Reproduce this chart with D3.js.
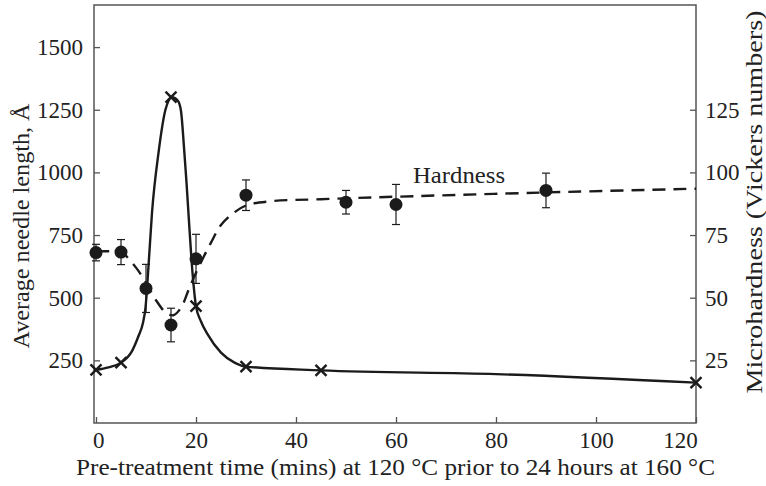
<!DOCTYPE html>
<html>
<head>
<meta charset="utf-8">
<script src="https://cdn.jsdelivr.net/npm/d3@7"></script>
<style>
  body { margin: 0; background: #fff; }
  text { font-family: "Liberation Serif", "DejaVu Serif", serif; fill: #222; }
</style>
</head>
<body>
<svg id="chart" width="766" height="486"></svg>
<script>
// --- Data ---
const xTicks = [0, 20, 40, 60, 80, 100, 120];
const leftTicks = [250, 500, 750, 1000, 1250, 1500];
const rightTicks = [25, 50, 75, 100, 125];

// needle length (crosses, solid line), Å
const needleTime = [0, 5, 15, 20, 30, 45, 120];
const needleLen = [212, 241, 1300, 466, 225, 210, 161];

// smooth needle-length curve as drawn
const needleCurveTime = [0, 2.5, 5, 7.2, 8.5, 9.4, 9.9, 10.5, 11.2, 12.5, 13.9, 15.2, 16.4, 17, 17.6, 18.1, 18.7, 19.3, 20, 21, 22.3, 25, 27.7, 30, 45, 80, 120];
const needleCurveLen = [212, 222, 241, 287, 347, 400, 460, 626, 839, 1078, 1251, 1300, 1285, 1245, 1100, 960, 772, 600, 466, 405, 355, 281, 241, 225, 210, 195, 161];

// hardness (filled circles with error bars), Vickers
const hardTime = [0, 5, 10, 15, 20, 30, 50, 60, 90];
const hardVal = [68, 68.2, 53.7, 39.1, 65.5, 90.9, 88.1, 87.2, 92.8];
const hardErr = [3.3, 5, 9.6, 6.7, 9.8, 6.1, 4.7, 8, 6.9];

// dashed hardness trend line
const hardCurveTime = [0, 3, 5, 8, 10, 12, 14, 15.5, 17, 18.5, 20, 23, 25, 27, 30, 35, 45, 60, 90, 120];
const hardCurveVal = [68.5, 68.5, 68.2, 62, 56, 49, 44, 43, 46, 53, 60, 72, 79, 83, 86.8, 88.5, 89.3, 90.3, 92, 93.5];

// --- Layout ---
const svg = d3.select("#chart");
const plotL = 94, plotR = 696, plotT = 5, plotB = 423;
const axisColor = "#555";
const inkColor = "#1b1b1b";

const x = d3.scaleLinear().domain([-0.4, 120]).range([plotL, plotR]);
const yL = d3.scaleLinear().domain([0, 1668]).range([plotB, plotT]);
const yR = d3.scaleLinear().domain([0, 166.8]).range([plotB, plotT]);

// --- Frame ---
svg.append("rect")
    .attr("x", plotL).attr("y", plotT)
    .attr("width", plotR - plotL).attr("height", plotB - plotT)
    .attr("fill", "none")
    .attr("stroke", axisColor)
    .attr("stroke-width", 1.5);

// --- Axes (ticks point inward) ---
const tickFont = 23;
const titleFont = 24;
const fmt = d3.format("d");

function styleAxis(g) {
    g.select(".domain").remove();
    g.selectAll(".tick line").attr("stroke", axisColor).attr("stroke-width", 1.3);
    g.selectAll(".tick text")
        .attr("font-size", tickFont)
        .attr("font-family", null)
        .attr("fill", "#222");
}

const xAxis = svg.append("g")
    .attr("transform", `translate(0,${plotB})`)
    .call(d3.axisBottom(x).tickValues(xTicks).tickFormat(fmt).tickSize(-6).tickPadding(12))
    .call(styleAxis);
xAxis.selectAll(".tick text")
    .attr("dy", "0.55em")
    .attr("text-anchor", d => d === 120 ? "end" : "middle")
    .attr("dx", d => d === 120 ? "0.05em" : (d === 0 ? "0.1em" : 0));

svg.append("g")
    .attr("transform", `translate(${plotL},0)`)
    .call(d3.axisLeft(yL).tickValues(leftTicks).tickFormat(fmt).tickSize(-6).tickPadding(11))
    .call(styleAxis);

svg.append("g")
    .attr("transform", `translate(${plotR},0)`)
    .call(d3.axisRight(yR).tickValues(rightTicks).tickFormat(fmt).tickSize(-6).tickPadding(9))
    .call(styleAxis);

// --- Axis titles ---
svg.append("text")
    .attr("x", (76 + 715) / 2).attr("y", 475)
    .attr("text-anchor", "middle")
    .attr("font-size", titleFont)
    .attr("textLength", 639)
    .attr("lengthAdjust", "spacingAndGlyphs")
    .text("Pre-treatment time (mins) at 120 °C prior to 24 hours at 160 °C");

svg.append("text")
    .attr("transform", "translate(29,226) rotate(-90)")
    .attr("text-anchor", "middle")
    .attr("font-size", titleFont)
    .attr("textLength", 245)
    .attr("lengthAdjust", "spacingAndGlyphs")
    .text("Average needle length, Å");

svg.append("text")
    .attr("transform", "translate(762,202) rotate(-90)")
    .attr("text-anchor", "middle")
    .attr("font-size", titleFont)
    .attr("textLength", 383)
    .attr("lengthAdjust", "spacingAndGlyphs")
    .text("Microhardness (Vickers numbers)");

// --- Needle length curve ---
const needleLine = d3.line()
    .x((d, i) => x(needleCurveTime[i]))
    .y(d => yL(d))
    .curve(d3.curveMonotoneX);

svg.append("path")
    .datum(needleCurveLen)
    .attr("fill", "none")
    .attr("stroke", inkColor)
    .attr("stroke-width", 2.4)
    .attr("d", needleLine);

// --- Hardness dashed curve ---
const hardLine = d3.line()
    .x((d, i) => x(hardCurveTime[i]))
    .y(d => yR(d))
    .curve(d3.curveCatmullRom.alpha(0.5));

svg.append("path")
    .datum(hardCurveVal)
    .attr("fill", "none")
    .attr("stroke", inkColor)
    .attr("stroke-width", 2.4)
    .attr("stroke-dasharray", "13,8")
    .attr("d", hardLine);

// --- Error bars ---
const errG = svg.append("g")
    .attr("stroke", inkColor)
    .attr("stroke-width", 1.2);
hardTime.forEach((t, i) => {
    const cx = x(t);
    const y0 = yR(hardVal[i] - hardErr[i]);
    const y1 = yR(hardVal[i] + hardErr[i]);
    errG.append("line").attr("x1", cx).attr("x2", cx).attr("y1", y0).attr("y2", y1);
    errG.append("line").attr("x1", cx - 4).attr("x2", cx + 4).attr("y1", y0).attr("y2", y0);
    errG.append("line").attr("x1", cx - 4).attr("x2", cx + 4).attr("y1", y1).attr("y2", y1);
});

// --- Hardness points ---
svg.append("g")
    .selectAll("circle")
    .data(hardVal)
    .join("circle")
    .attr("cx", (d, i) => x(hardTime[i]))
    .attr("cy", d => yR(d))
    .attr("r", 6.5)
    .attr("fill", inkColor);

// --- Needle crosses ---
const s = 5.5;
svg.append("g")
    .selectAll("path")
    .data(needleLen)
    .join("path")
    .attr("transform", (d, i) => `translate(${x(needleTime[i])},${yL(d)})`)
    .attr("d", `M${-s},${-s}L${s},${s}M${-s},${s}L${s},${-s}`)
    .attr("stroke", inkColor)
    .attr("stroke-width", 2.4)
    .attr("fill", "none");

// --- Series label ---
svg.append("text")
    .attr("x", 459).attr("y", 183)
    .attr("text-anchor", "middle")
    .attr("font-size", titleFont)
    .attr("textLength", 92)
    .attr("lengthAdjust", "spacingAndGlyphs")
    .text("Hardness");
</script>
</body>
</html>
